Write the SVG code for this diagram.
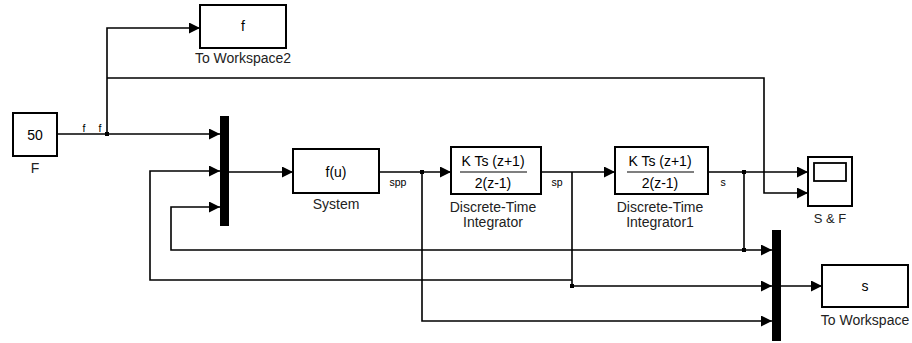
<svg xmlns="http://www.w3.org/2000/svg" width="912" height="343" viewBox="0 0 912 343">
<defs>
<marker id="arr" markerUnits="userSpaceOnUse" markerWidth="12" markerHeight="12" refX="11" refY="5.5" orient="auto">
<path d="M0,0 L11,5.5 L0,11 z" fill="#000"/>
</marker>
<style>
.blk{fill:#fff;stroke:#000;stroke-width:2}
.bar{fill:#000}
.ln{fill:none;stroke:#000;stroke-width:1.6}
.arw{marker-end:url(#arr)}
text{font-family:"Liberation Sans",Arial,sans-serif;fill:#000}
.t{font-size:14px;text-anchor:middle}
.lbl{font-size:14px;text-anchor:middle;fill:#222}
.sig{font-size:10.5px;text-anchor:middle}
.dot{fill:#000}
</style>
</defs>
<rect width="912" height="343" fill="#fff"/>

<g id="F">
<rect class="blk" x="13" y="113" width="44" height="43"/>
<text class="t" x="35" y="140">50</text>
<text class="lbl" x="35" y="173">F</text>
</g>

<g id="ToWorkspace2">
<rect class="blk" x="200" y="5" width="86" height="43"/>
<text class="t" x="243" y="31">f</text>
<text class="lbl" x="243" y="63">To Workspace2</text>
</g>

<g id="Mux1">
<rect class="bar" x="220" y="116" width="9" height="110"/>
</g>

<g id="System">
<rect class="blk" x="293" y="149" width="86" height="44"/>
<text class="t" x="336" y="177">f(u)</text>
<text class="lbl" x="336" y="209">System</text>
</g>

<g id="DTI">
<rect class="blk" x="451" y="147" width="90" height="47"/>
<line x1="460" y1="172" x2="527" y2="172" stroke="#000" stroke-width="1.2"/>
<text class="t" x="493" y="166">K Ts (z+1)</text>
<text class="t" x="493" y="188">2(z-1)</text>
<text class="lbl" x="493" y="212">Discrete-Time</text>
<text class="lbl" x="493" y="227">Integrator</text>
</g>

<g id="DTI1">
<rect class="blk" x="615" y="147" width="93" height="47"/>
<line x1="627" y1="172" x2="694" y2="172" stroke="#000" stroke-width="1.2"/>
<text class="t" x="660" y="166">K Ts (z+1)</text>
<text class="t" x="660" y="188">2(z-1)</text>
<text class="lbl" x="660" y="212">Discrete-Time</text>
<text class="lbl" x="660" y="227">Integrator1</text>
</g>

<g id="Scope">
<rect class="blk" x="808" y="157" width="44" height="49"/>
<rect x="814" y="163" width="32" height="18" fill="#fff" stroke="#000" stroke-width="1.8"/>
<text class="lbl" x="830" y="223" style="font-size:13px">S &amp; F</text>
</g>

<g id="Mux2">
<rect class="bar" x="772" y="230" width="9" height="111"/>
</g>

<g id="ToWorkspace">
<rect class="blk" x="822" y="265" width="86" height="42"/>
<text class="t" x="865" y="291">s</text>
<text class="lbl" x="865" y="325">To Workspace</text>
</g>

<g id="connectors">
<path class="ln arw" d="M57,134 H220"/>
<path class="ln arw" d="M107,134 V28 H200"/>
<path class="ln arw" d="M107,78 H764 V193 H808"/>
<path class="ln arw" d="M229,172 H293"/>
<path class="ln arw" d="M379,172 H451"/>
<path class="ln arw" d="M541,172 H615"/>
<path class="ln arw" d="M708,172 H808"/>
<path class="ln arw" d="M744,172 V250 H772"/>
<path class="ln arw" d="M744,250 H171 V207 H220"/>
<path class="ln arw" d="M572,172 V286 H772"/>
<path class="ln arw" d="M572,280 H150 V171 H220"/>
<path class="ln arw" d="M422,172 V321 H772"/>
<path class="ln arw" d="M781,286 H822"/>
<rect class="dot" x="105" y="132" width="4" height="4"/>
<rect class="dot" x="420" y="170" width="4" height="4"/>
<rect class="dot" x="742" y="170" width="4" height="4"/>
<rect class="dot" x="742" y="248" width="4" height="4"/>
<rect class="dot" x="570" y="284" width="4" height="4"/>
<text class="sig" x="84" y="132">f</text>
<text class="sig" x="100" y="132">f</text>
<text class="sig" x="398" y="186">spp</text>
<text class="sig" x="557" y="186">sp</text>
<text class="sig" x="723" y="186">s</text>
</g>
</svg>
